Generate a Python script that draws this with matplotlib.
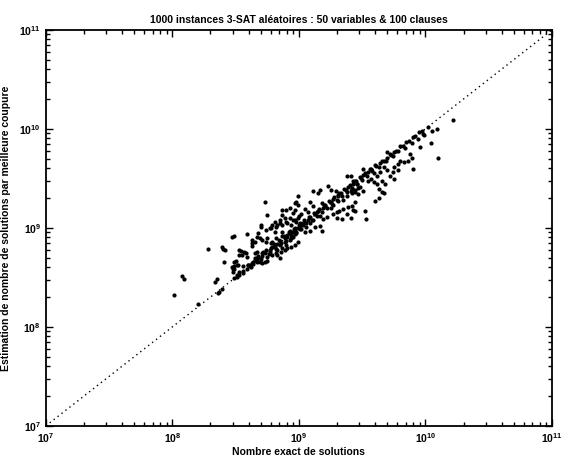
import numpy as np
import matplotlib.pyplot as plt
from matplotlib.ticker import LogLocator, NullFormatter

plt.rcParams['font.family'] = ['Liberation Sans', 'DejaVu Sans']

# log10 of the exact number of solutions (x) and of the estimate (y)
log_exact = [
    8.01, 8.08, 8.09, 8.20, 8.28, 8.34, 8.35, 8.37, 8.39, 8.36, 8.39, 8.40, 8.42, 8.41, 8.47,
    8.49, 8.49, 8.51, 8.50, 8.49, 8.51, 8.53, 8.56, 8.48, 8.48, 8.51, 8.53, 8.53, 8.49, 8.54,
    8.58, 8.59, 8.70, 8.47, 8.63, 8.65, 8.63, 8.67, 8.68, 8.65, 8.67, 8.53, 8.56, 8.59, 8.61,
    8.64, 8.67,
    8.70, 8.74, 8.77, 8.79, 8.82, 8.85, 8.90, 8.94, 8.97,
    8.71, 8.75, 8.78, 8.81, 8.83, 8.82, 8.79, 8.85, 8.87, 8.90, 8.93, 8.95, 8.98,
    8.71, 8.75, 8.75, 8.73, 8.71, 8.77,
    8.73, 8.75, 8.90, 8.93, 8.95, 8.97, 8.99, 8.98, 8.87, 8.89, 8.85, 8.81, 8.83, 8.87, 8.91,
    8.97, 8.99, 8.78, 8.81, 8.87, 8.93, 8.99,
    8.63, 8.69, 8.74, 8.79, 8.82, 8.85, 8.89, 8.94, 8.57, 8.55, 8.59, 8.68, 8.83, 8.86, 8.89,
    8.91, 8.94, 8.97, 8.99, 8.49, 8.52, 8.56, 8.60, 8.63, 8.65, 8.69,
    9.38, 9.11, 9.15, 9.17, 9.23, 9.25, 9.29, 9.31, 8.99, 8.97, 9.09, 9.11, 9.05, 9.07, 9.02,
    9.00, 8.87, 8.93, 9.18, 9.21, 9.25, 9.27, 9.31, 9.35, 9.38, 9.42, 9.44, 9.47, 9.41, 9.14,
    9.17, 9.19, 9.22, 9.27, 9.30, 9.32, 9.35, 9.39, 9.42, 9.44, 8.95, 8.98, 9.01, 9.03, 9.06,
    9.09, 9.11, 9.30, 9.34, 9.38, 9.41, 9.44, 8.93, 8.97, 9.01, 9.05, 9.09, 9.13, 9.17, 9.18,
    8.87, 8.91,
    9.52, 9.53, 9.43, 9.67, 9.63, 9.60, 9.70,
    10.10, 10.04, 9.96, 9.74, 9.78, 9.84, 9.89, 9.94, 9.99, 10.05, 9.88, 9.89, 9.90, 9.80, 9.83,
    9.86, 9.78, 9.75, 9.78, 9.74, 9.67, 9.70, 9.64, 9.51, 9.72, 9.75, 9.59, 9.62, 9.57, 9.55,
    9.59, 9.62, 9.66, 9.68, 9.63, 9.66, 9.43, 9.46, 9.48, 9.42, 9.44, 9.47, 9.51, 9.41,
    10.22, 10.09, 9.98,
    8.60, 8.62, 8.65, 8.68, 8.70, 8.72, 8.74, 8.76, 8.78, 8.80, 8.82, 8.84, 8.86, 8.88, 8.90,
    8.92, 8.94, 8.96, 8.98, 9.00, 9.02, 9.04, 9.06, 9.08, 9.10, 9.12, 9.14, 9.16, 9.18, 9.20,
    9.22, 9.24, 9.26, 9.28, 9.30, 9.32, 9.34, 9.36, 9.38, 9.40, 9.42, 9.44, 9.46, 9.48, 9.50,
    9.52, 9.54, 9.56, 9.58, 9.60, 9.63, 9.66, 9.69, 9.72, 9.75, 9.80, 9.85, 9.90, 9.95,
    # dense core hugging the diagonal
    8.61, 8.64, 8.67, 8.71, 8.73, 8.77, 8.79, 8.83, 8.85, 8.89, 8.91, 8.95, 8.97, 9.01, 9.03,
    9.07, 9.09, 9.13, 9.15, 9.19, 9.21, 9.25, 9.27, 9.31, 9.33, 9.37, 9.39, 9.43, 9.45, 9.49,
    9.51, 9.55, 9.57, 9.61, 9.64, 9.67, 9.70, 9.73, 9.77, 9.82, 9.87, 9.92, 9.97, 10.02,
]
log_estim = [
    8.32, 8.51, 8.48, 8.23, 8.79, 8.45, 8.48, 8.35, 8.38, 8.34, 8.81, 8.79, 8.78, 8.66, 8.91,
    8.61, 8.58, 8.62, 8.67, 8.49, 8.50, 8.52, 8.54, 8.58, 8.55, 8.52, 8.78, 8.73, 8.92, 8.77,
    8.75, 8.94, 9.03, 8.60, 8.85, 8.86, 8.82, 8.91, 8.95, 8.75, 8.76, 8.55, 8.56, 8.58, 8.61,
    8.64, 8.66,
    9.01, 8.98, 9.00, 9.03, 9.01, 9.05, 9.06, 9.03, 9.00,
    8.88, 8.90, 8.85, 8.81, 8.78, 8.75, 8.73, 8.70, 8.80, 8.83, 8.88, 8.91, 8.95,
    8.75, 8.71, 8.67, 8.66, 8.65, 8.76,
    9.26, 9.13, 9.18, 9.20, 9.15, 9.18, 9.23, 9.26, 9.13, 9.10, 9.08, 9.06, 9.03, 9.03, 9.05,
    9.08, 9.10, 9.00, 8.96, 8.96, 8.95, 9.00,
    8.88, 8.90, 8.86, 8.86, 8.90, 8.83, 8.86, 8.90, 8.76, 8.73, 8.71, 8.71, 8.73, 8.76, 8.78,
    8.80, 8.81, 8.83, 8.86, 8.66, 8.63, 8.61, 8.63, 8.65, 8.68, 8.66,
    9.52, 9.37, 9.35, 9.38, 9.42, 9.38, 9.37, 9.33, 9.32, 9.25, 9.26, 9.22, 9.19, 9.16, 9.14,
    9.12, 9.18, 9.10, 9.25, 9.22, 9.20, 9.23, 9.27, 9.28, 9.32, 9.35, 9.38, 9.40, 9.37, 9.16,
    9.12, 9.09, 9.11, 9.14, 9.16, 9.17, 9.19, 9.21, 9.22, 9.26, 9.08, 9.06, 9.05, 9.03, 9.01,
    9.05, 9.08, 9.10, 9.09, 9.14, 9.10, 9.17, 8.97, 8.94, 8.99, 8.96, 8.97, 9.01, 9.02, 8.97,
    8.92, 8.91,
    9.17, 9.09, 9.18, 9.35, 9.30, 9.27, 9.77,
    9.71, 9.86, 9.82, 9.73, 9.78, 9.81, 9.86, 9.90, 9.94, 9.98, 9.75, 9.71, 9.59, 9.67, 9.66,
    9.67, 9.64, 9.61, 9.58, 9.56, 9.61, 9.58, 9.56, 9.59, 9.52, 9.49, 9.55, 9.52, 9.49, 9.47,
    9.46, 9.44, 9.47, 9.44, 9.39, 9.36, 9.47, 9.44, 9.41, 9.39, 9.36, 9.34, 9.37, 9.52,
    10.09, 10.00, 9.95,
    8.63, 8.60, 8.70, 8.72, 8.69, 8.76, 8.78, 8.74, 8.80, 8.84, 8.79, 8.88, 8.85, 8.92, 8.87,
    8.96, 8.93, 8.99, 8.96, 9.03, 8.99, 9.08, 9.05, 9.11, 9.08, 9.15, 9.12, 9.19, 9.16, 9.23,
    9.20, 9.27, 9.24, 9.31, 9.28, 9.35, 9.32, 9.39, 9.36, 9.43, 9.40, 9.47, 9.44, 9.51, 9.48,
    9.55, 9.52, 9.59, 9.57, 9.63, 9.61, 9.68, 9.67, 9.75, 9.77, 9.83, 9.87, 9.92, 9.97,
    8.62, 8.66, 8.68, 8.72, 8.75, 8.78, 8.81, 8.84, 8.87, 8.90, 8.93, 8.96, 8.99, 9.02, 9.05,
    9.08, 9.11, 9.14, 9.17, 9.20, 9.23, 9.26, 9.29, 9.32, 9.35, 9.38, 9.41, 9.44, 9.47, 9.50,
    9.53, 9.56, 9.59, 9.62, 9.65, 9.68, 9.71, 9.74, 9.78, 9.83, 9.88, 9.93, 9.98, 10.02,
]

exact = 10 ** np.array(log_exact)
estim = 10 ** np.array(log_estim)

fig = plt.figure(figsize=(5.65, 4.58), dpi=100)
ax = fig.add_axes([0.081, 0.070, 0.896, 0.865])

ax.plot([1e7, 1e11], [1e7, 1e11], color='k', lw=1.0, linestyle=(0, (1, 2.6)))
ax.plot(exact, estim, 'k.', markersize=4)

ax.set_xscale('log')
ax.set_yscale('log')
ax.set_xlim(1e7, 1e11)
ax.set_ylim(1e7, 1e11)

for a in (ax.xaxis, ax.yaxis):
    a.set_major_locator(LogLocator(base=10, numticks=10))
    a.set_minor_locator(LogLocator(base=10, subs=np.arange(2, 10), numticks=10))
    a.set_minor_formatter(NullFormatter())

ax.tick_params(which='both', direction='in', top=True, right=True, labelsize=7.5, width=1)
ax.tick_params(which='major', length=5)
ax.tick_params(which='minor', length=3)
ax.tick_params(axis='x', pad=4)
for lab in ax.get_xticklabels() + ax.get_yticklabels():
    lab.set_fontweight('bold')
for s in ax.spines.values():
    s.set_linewidth(1.3)

ax.set_title('1000 instances 3-SAT aléatoires : 50 variables & 100 clauses',
             fontsize=7.5, fontweight='bold', pad=5)
ax.set_xlabel('Nombre exact de solutions', fontsize=7.5, fontweight='bold', labelpad=1)
ax.set_ylabel('Estimation de nombre de solutions par meilleure coupure',
              fontsize=7.5, fontweight='bold', labelpad=6)

fig.savefig('out.png', dpi=100)
